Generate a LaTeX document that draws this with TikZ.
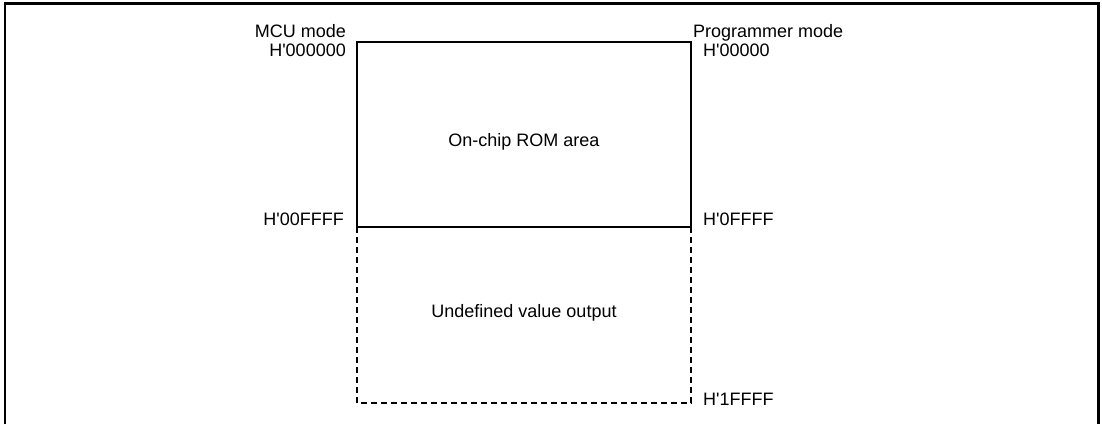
\documentclass[tikz,border=0pt]{standalone}
\usepackage{fontspec}
\setmainfont{Liberation Sans}
\begin{document}
\begin{tikzpicture}[x=1pt,y=-1pt,
  lbl/.style={inner sep=0pt,font=\fontsize{18}{20}\selectfont},
  frameline/.style={line width=2.6pt},
  solidbox/.style={line width=2.4pt},
  dashbox/.style={line width=2.4pt,dash pattern=on 6pt off 4pt}]
\useasboundingbox (0,0) rectangle (1102,424);
% outer frame
\draw[frameline] (5,424) -- (5,3.3) -- (1098.7,3.3) -- (1098.7,424);
% coordinates
\coordinate (tl) at (357,42);
\coordinate (tr) at (691,42);
\coordinate (ml) at (357,227);
\coordinate (mr) at (691,227);
\coordinate (bl) at (357,403);
\coordinate (br) at (691,403);
% ROM area
\draw[solidbox] (tl) rectangle (mr);
% undefined area
\draw[dashbox] (ml) -- (bl) -- (br) -- (mr);
% labels
\node[lbl,anchor=base east] (mcu) at (346,37) {MCU mode};
\node[lbl,anchor=base east] (a0) at (346,56) {H\textquotesingle000000};
\node[lbl,anchor=base west] (prog) at (693,37) {Programmer mode};
\node[lbl,anchor=base west] (p0) at (703,56) {H\textquotesingle00000};
\node[lbl,anchor=base east] (aF) at (344,225) {H\textquotesingle00FFFF};
\node[lbl,anchor=base west] (pF) at (703,225) {H\textquotesingle0FFFF};
\node[lbl,anchor=base west] (p1F) at (703,405) {H\textquotesingle1FFFF};
\node[lbl,anchor=base] (rom) at (524,146) {On-chip ROM area};
\node[lbl,anchor=base] (undef) at (524,317) {Undefined value output};
\end{tikzpicture}
\end{document}
